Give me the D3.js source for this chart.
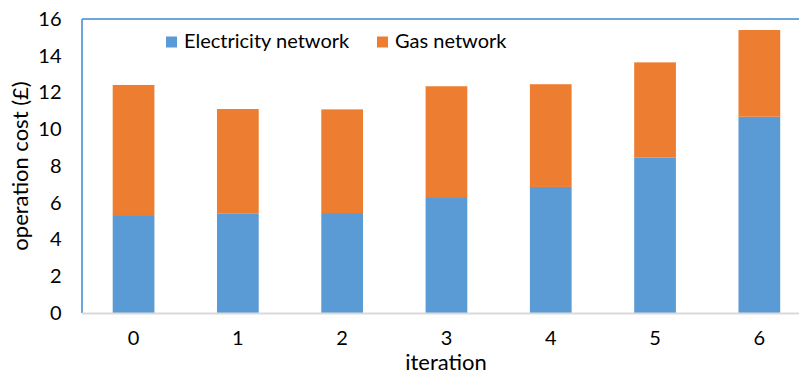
<!DOCTYPE html>
<html>
<head>
<meta charset="utf-8">
<script src="https://cdn.jsdelivr.net/npm/d3@7"></script>
<style>
  html, body { margin: 0; padding: 0; background: #fff; }
  svg { display: block; font-family: Lato, "Open Sans", sans-serif; }
</style>
</head>
<body>
<svg id="chart" width="799" height="374"></svg>
<script>
// Operation cost per iteration, split by network
const iterations = ["0", "1", "2", "3", "4", "5", "6"];
const electricityCost = [5.33, 5.40, 5.44, 6.31, 6.86, 8.47, 10.68];
const gasCost = [7.08, 5.70, 5.64, 6.03, 5.59, 5.17, 4.72];
const seriesNames = ["Electricity network", "Gas network"];
const seriesColors = ["#5B9BD5", "#ED7D31"];
const yTicks = [0, 2, 4, 6, 8, 10, 12, 14, 16];

const svg = d3.select("#chart");
const plot = { left: 82, top: 19, bottom: 313 };

const x = d3.scaleBand()
  .domain(iterations)
  .range([81.4, 811.5])
  .paddingInner(0.6)
  .paddingOuter(0.3);

const y = d3.scaleLinear().domain([0, 16]).range([plot.bottom, plot.top]);

// stacked layout
const rows = iterations.map((it, i) => ({ it, e: electricityCost[i], g: gasCost[i] }));
const stack = d3.stack().keys(["e", "g"])(rows);

svg.append("g")
  .selectAll("g")
  .data(stack)
  .join("g")
  .attr("fill", (d, i) => seriesColors[i])
  .selectAll("rect")
  .data(d => d)
  .join("rect")
  .attr("x", d => x(d.data.it))
  .attr("width", x.bandwidth())
  .attr("y", d => y(d[1]))
  .attr("height", d => y(d[0]) - y(d[1]));

// plot frame: blue top/left, grey baseline
svg.append("line")
  .attr("x1", plot.left).attr("x2", 799)
  .attr("y1", plot.top).attr("y2", plot.top)
  .attr("stroke", "#6fa6da").attr("stroke-width", 2);
svg.append("line")
  .attr("x1", plot.left).attr("x2", plot.left)
  .attr("y1", plot.top).attr("y2", plot.bottom)
  .attr("stroke", "#6fa6da").attr("stroke-width", 2);
svg.append("line")
  .attr("x1", plot.left).attr("x2", 799)
  .attr("y1", plot.bottom + 0.5).attr("y2", plot.bottom + 0.5)
  .attr("stroke", "#d9d9d9").attr("stroke-width", 2);

// y axis labels
const yAxis = d3.axisLeft(y).tickValues(yTicks).tickSize(0).tickPadding(0);
const gy = svg.append("g").attr("transform", "translate(61.5,0)").call(yAxis);
gy.select(".domain").remove();
gy.selectAll("text")
  .attr("font-family", "Lato, 'Open Sans', sans-serif")
  .attr("font-size", 20)
  .attr("fill", "#000");

// x axis labels
const xAxis = d3.axisBottom(x).tickSize(0).tickPadding(0);
const gx = svg.append("g").attr("transform", "translate(0,331)").call(xAxis);
gx.select(".domain").remove();
gx.selectAll("text")
  .attr("font-family", "Lato, 'Open Sans', sans-serif")
  .attr("font-size", 20)
  .attr("fill", "#000");

// axis titles
svg.append("text")
  .attr("x", 446).attr("y", 370)
  .attr("text-anchor", "middle")
  .attr("font-size", 22)
  .text("iteration");
svg.append("text")
  .attr("transform", "translate(28,166) rotate(-90)")
  .attr("text-anchor", "middle")
  .attr("font-size", 22)
  .text("operation cost (£)");

// legend
const legendX = [166, 377];
const legend = svg.append("g");
seriesNames.forEach((name, i) => {
  legend.append("rect")
    .attr("x", legendX[i]).attr("y", 36.5)
    .attr("width", 11).attr("height", 11)
    .attr("fill", seriesColors[i]);
  legend.append("text")
    .attr("x", legendX[i] + 18).attr("y", 48)
    .attr("font-size", 20)
    .attr("fill", "#000")
    .text(name);
});
</script>
</body>
</html>
